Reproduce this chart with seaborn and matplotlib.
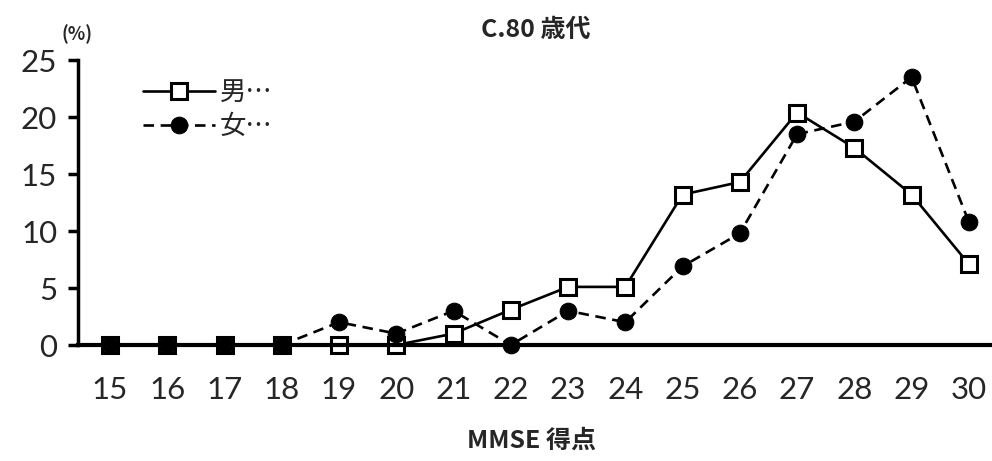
import matplotlib
matplotlib.use("Agg")
import matplotlib.pyplot as plt
import seaborn as sns
import pandas as pd

# MMSE score distribution, 80s age group (%)
scores = [15, 16, 17, 18, 19, 20, 21, 22, 23, 24, 25, 26, 27, 28, 29, 30]
male = [0, 0, 0, 0, 0, 0, 1.0, 3.1, 5.1, 5.1, 13.2, 14.3, 20.4, 17.3, 13.2, 7.1]
female = [0, 0, 0, 0, 2.0, 1.0, 3.0, 0, 3.0, 2.0, 6.9, 9.8, 18.5, 19.6, 23.5, 10.8]
male_label = "男…"
female_label = "女…"
yticks = [0, 5, 10, 15, 20, 25]

sns.set_theme(style="white")
plt.rcParams["font.family"] = ["Lato", "Noto Sans CJK JP", "DejaVu Sans"]

df_m = pd.DataFrame({"score": scores, "pct": male})
df_f = pd.DataFrame({"score": scores, "pct": female})

fig = plt.figure(figsize=(9.92, 4.61), dpi=100)
ax = fig.add_axes([0.0786, 0.2516, 0.92, 0.618])

sns.lineplot(data=df_m, x="score", y="pct", ax=ax, color="black", lw=1.9,
             marker="s", markersize=11, markerfacecolor="white",
             markeredgecolor="black", markeredgewidth=2.2, label=male_label,
             clip_on=False)
sns.lineplot(data=df_f, x="score", y="pct", ax=ax, color="black", lw=1.9,
             linestyle=(0, (4, 2.5)), marker="o", markersize=12,
             markerfacecolor="black", markeredgecolor="black",
             label=female_label, clip_on=False)

ax.set_xlim(14.44, 30.38)
ax.set_ylim(0, 25)
ax.set_yticks(yticks)
ax.set_xticks(scores)
ax.tick_params(axis="y", direction="out", length=7, width=2.5, color="black",
               labelsize=22.5, pad=8, left=True)
ax.tick_params(axis="x", length=0, labelsize=22.5, pad=22)
for s in ["top", "right"]:
    ax.spines[s].set_visible(False)
ax.spines["left"].set_linewidth(2.5)
ax.spines["bottom"].set_linewidth(3)
ax.spines["left"].set_color("black")
ax.spines["bottom"].set_color("black")
ax.set_xlabel("")
ax.set_ylabel("")
ax.grid(False)

cjk = ["Noto Sans CJK JP", "DejaVu Sans"]
fig.text(0.54, 0.935, "C.80 歳代", ha="center", va="center", fontsize=18,
         fontweight="bold", family=cjk)
fig.text(0.536, 0.045, "MMSE 得点", ha="center", va="center", fontsize=18,
         fontweight="bold", family=cjk)
fig.text(0.078, 0.925, "(%)", ha="center", va="center", fontsize=13,
         fontweight="bold", family=cjk)

leg = ax.legend(loc="upper left", bbox_to_anchor=(0.06, 0.97), frameon=False,
                fontsize=19, handlelength=2.7, handletextpad=0.2,
                labelspacing=0.25, borderaxespad=0)
for t in leg.get_texts():
    t.set_family(cjk)

fig.savefig("out.png", dpi=100)
